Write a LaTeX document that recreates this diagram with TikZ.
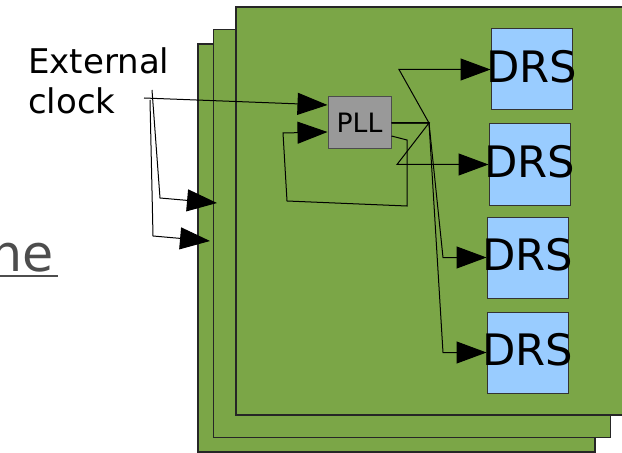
\documentclass[tikz,border=0pt]{standalone}
\usepackage{fontspec}
\setmainfont{DejaVu Sans}
\usepackage{tikz}
\usetikzlibrary{arrows.meta, positioning}
\definecolor{boardgreen}{HTML}{7BA647}
\definecolor{chipblue}{HTML}{99CCFF}
\definecolor{pllgray}{HTML}{999999}
\definecolor{linkgray}{HTML}{4D4D4D}
\newcommand{\drslabel}{\makebox[0pt]{\raisebox{4.5pt}{DRS}}}

\begin{document}
\begin{tikzpicture}[
        x=0.75pt, y=-0.75pt,
        board/.style={rectangle, draw=black!85, line width=0.9pt, fill=boardgreen, minimum width=297.75pt, minimum height=306pt, inner sep=0pt},
        chip/.style={rectangle, draw=black!80, line width=0.75pt, fill=chipblue, minimum width=60.75pt, minimum height=60.75pt, inner sep=0pt, font=\fontsize{32.5}{38}\selectfont},
        pll/.style={rectangle, draw=black!70, line width=0.75pt, fill=pllgray, minimum width=47.25pt, minimum height=39pt, inner sep=0pt, font=\fontsize{20}{24}\selectfont},
        feed/.style={draw=black, line width=0.75pt, -{Triangle[length=22.5pt, width=16.5pt]}}
    ]
        \useasboundingbox (0,0) rectangle (622,453);

        % Boards
        \node (board3) [board] at (396.5,248) {};
        \node (board2) [board] at (412,233.5) {};
        \node (board1) [board] at (434.5,211) {};

        % Labels
        \node (frag) [anchor=base east, inner sep=0pt, text=linkgray, font=\fontsize{38}{46}\selectfont] at (54,272) {he};
        \node (ext) [anchor=north west, inner sep=0pt, align=left, font=\fontsize{25.5}{30}\selectfont] at (28,47) {External\\clock};

        % Chips
        \node (pll) [pll] at (359.5,123) {PLL};
        \node (drs1) [chip] at (531.5,69.5) {\drslabel};
        \node (drs2) [chip, below=9.75pt of drs1, xshift=-1.5pt] {\drslabel};
        \node (drs3) [chip, below=8.25pt of drs2, xshift=-1.5pt] {\drslabel};
        \node (drs4) [chip, below=9.75pt of drs3] {\drslabel};

        \coordinate (tap1) at (144,98);
        \coordinate (tap2) at (152,90);
        \coordinate (tap3) at (150,100);
        \coordinate (in2) at (217,203);
        \coordinate (in3) at (210,241);
        \coordinate (hub) at (429,123);

        % Arrows
        \draw [linkgray, line width=1.8pt] ([yshift=-3pt]frag.base west) -- ([yshift=-3pt, xshift=3pt]frag.base east);
        \draw [feed] (tap1) -- ([yshift=13.5pt]pll.west);
        \draw [feed] (tap2) -- (160,198) -- (in2);
        \draw [feed] (tap3) -- (153,236) -- (in3);
        \draw [feed] ([yshift=-9.75pt]pll.east) -- (407,140) -- (407,206) -- (287,201) -- (283,133) -- ([yshift=-6.75pt]pll.west);

        \foreach \drs/\bx in {drs1/399, drs2/397, drs3/443, drs4/443}
            \draw [feed] (pll.east) -- (hub) -- (\bx,0 |- \drs.west) -- (\drs.west);
    \end{tikzpicture}
\end{document}
